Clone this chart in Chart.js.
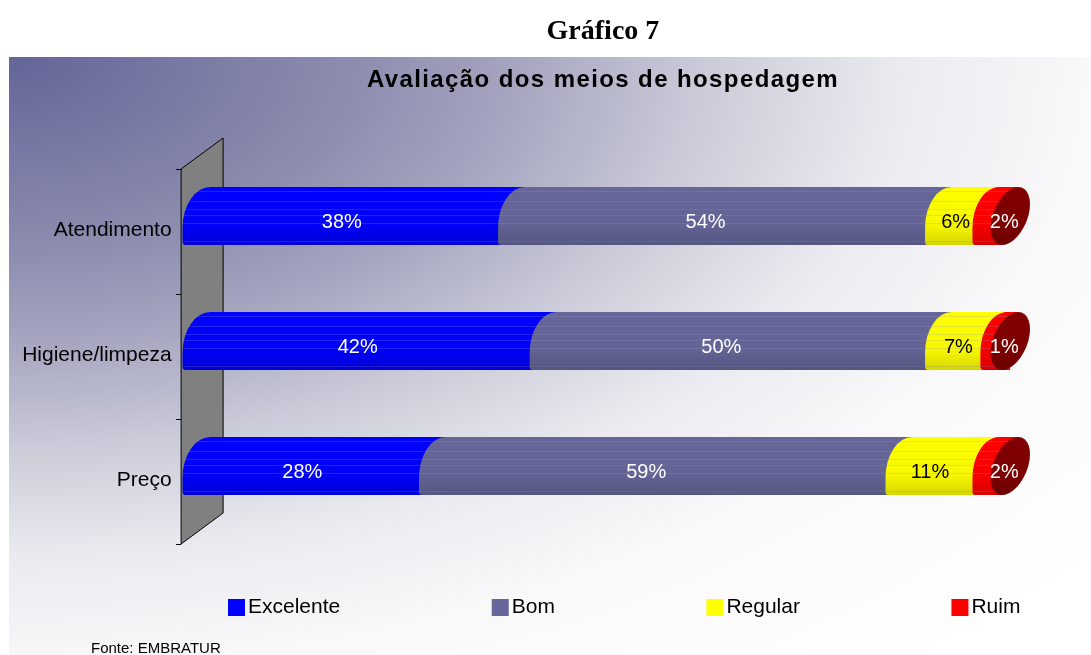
<!DOCTYPE html>
<html>
<head>
<meta charset="utf-8">
<script src="https://cdn.jsdelivr.net/npm/chart.js@4"></script>
<style>
html,body{margin:0;padding:0;background:#fff;overflow:hidden}
canvas{display:block}
</style>
</head>
<body>
<canvas id="c" width="1091" height="655"></canvas>
<script>
// ---- data ----
const pageTitle = 'Gráfico 7';
const chartTitle = 'Avaliação dos meios de hospedagem';
const sourceNote = 'Fonte: EMBRATUR';
const categories = ['Atendimento', 'Higiene/limpeza', 'Preço'];
const seriesNames = ['Excelente', 'Bom', 'Regular', 'Ruim'];
const excelente = [38, 42, 28];
const bom = [54, 50, 59];
const regular = [6, 7, 11];
const ruim = [2, 1, 2];
const seriesValues = [excelente, bom, regular, ruim];
const seriesColors = ['#0000ff', '#666699', '#ffff00', '#ff0000'];
const labelColors = ['#ffffff', '#ffffff', '#000000', '#ffffff'];
const capColor = '#800000';

const SANS = "'Liberation Sans', Arial, sans-serif";
const SERIF = "'Liberation Serif', 'Times New Roman', serif";

// ---- background (plot panel gradient) ----
const bgPlugin = {
  id: 'bg',
  beforeDraw(chart) {
    const ctx = chart.ctx;
    ctx.save();
    ctx.fillStyle = '#ffffff';
    ctx.fillRect(0, 0, chart.width, chart.height);
    ctx.translate(9, 57);
    ctx.scale(1.78, 1);
    const g = ctx.createRadialGradient(0, 0, 0, 0, 0, 800);
    g.addColorStop(0, 'rgb(100,101,152)');
    g.addColorStop(200 / 800, 'rgb(142,142,176)');
    g.addColorStop(293 / 800, 'rgb(168,168,194)');
    g.addColorStop(400 / 800, 'rgb(206,206,219)');
    g.addColorStop(500 / 800, 'rgb(234,234,240)');
    g.addColorStop(610 / 800, 'rgb(249,249,250)');
    g.addColorStop(1, 'rgb(255,255,255)');
    ctx.fillStyle = g;
    ctx.fillRect(0, 0, (chart.width - 9) / 1.78, chart.height - 57);
    ctx.restore();
  }
};

// ---- 3D wall behind the category axis ----
const wallPlugin = {
  id: 'wall',
  beforeDatasetsDraw(chart) {
    const ctx = chart.ctx;
    const {left, top, bottom} = chart.chartArea;
    const fx = left - 30.5, bx = left + 11.5, dy = 15.5;
    ctx.save();
    ctx.beginPath();
    ctx.moveTo(fx, top + dy);
    ctx.lineTo(bx, top - dy);
    ctx.lineTo(bx, bottom - dy);
    ctx.lineTo(fx, bottom + dy);
    ctx.closePath();
    ctx.fillStyle = '#808080';
    ctx.fill();
    ctx.strokeStyle = '#000';
    ctx.lineWidth = 1;
    ctx.stroke();
    const step = (bottom - top) / categories.length;
    ctx.beginPath();
    for (let i = 0; i <= categories.length; i++) {
      const y = Math.round(top + dy + i * step) + 0.5;
      ctx.moveTo(fx - 5, y);
      ctx.lineTo(fx, y);
    }
    ctx.stroke();
    ctx.restore();
  }
};

function bulgePath(ctx, xTop, xLeft, top, bottom) {
  const h = bottom - top, ry = 0.7 * h;
  ctx.beginPath();
  ctx.moveTo(xTop + 1, top);
  ctx.ellipse(xTop, top + ry, xTop - xLeft, ry, 0, -Math.PI / 2, -Math.PI, true);
  ctx.lineTo(xLeft, bottom - 3);
  ctx.quadraticCurveTo(xLeft, bottom, xLeft + 3, bottom);
}

// ---- cylinder look + value labels, from the bar elements' geometry ----
const cylPlugin = {
  id: 'cyl',
  afterDatasetsDraw(chart) {
    const ctx = chart.ctx;
    const metas = seriesNames.map((_, i) => chart.getDatasetMeta(i));
    const n = metas.length;
    categories.forEach((cat, j) => {
      const els = metas.map(m => m.data[j]);
      const y = els[0].y, h = els[0].height;
      const top = y - h / 2, bottom = y + h / 2;
      const b = [els[0].base, ...els.map(e => e.x)];
      const cx = b[n] + 8, sk = 8, rx = 18, ry = h / 2;
      ctx.save();
      // rounded start
      ctx.fillStyle = seriesColors[0];
      bulgePath(ctx, b[0] - 1, b[0] - 29, top, bottom);
      ctx.lineTo(b[0] + 2, bottom);
      ctx.lineTo(b[0] + 2, top);
      ctx.closePath();
      ctx.fill();
      // segment boundaries
      for (let k = 1; k < n; k++) {
        const x = b[k];
        const xr = Math.round(x + 14);
        ctx.fillStyle = seriesColors[k - 1];
        ctx.fillRect(Math.floor(x), top, xr - Math.floor(x), h);
        ctx.fillStyle = seriesColors[k];
        bulgePath(ctx, x + 13, x - 14, top, bottom);
        ctx.lineTo(xr + 2, bottom);
        ctx.lineTo(xr + 2, top);
        ctx.closePath();
        ctx.fill();
      }
      // last segment body up to the end cap
      const last = b[n - 1];
      ctx.fillStyle = seriesColors[n - 1];
      ctx.beginPath();
      ctx.moveTo(last + 10, top);
      ctx.lineTo(cx + sk, top);
      ctx.lineTo(cx - sk, bottom);
      ctx.lineTo(Math.min(last + 10, cx - sk), bottom);
      ctx.closePath();
      ctx.fill();

      const sil = () => {
        ctx.beginPath();
        ctx.moveTo(b[0] - 1, top);
        ctx.ellipse(b[0] - 1, top + 0.7 * h, 28, 0.7 * h, 0, -Math.PI / 2, -Math.PI, true);
        ctx.lineTo(b[0] - 29, bottom - 3);
        ctx.quadraticCurveTo(b[0] - 29, bottom, b[0] - 26, bottom);
        ctx.lineTo(cx - sk, bottom);
        ctx.save();
        ctx.transform(rx, 0, -sk, ry, cx, y);
        ctx.arc(0, 0, 1, Math.PI / 2, -Math.PI / 2, true);
        ctx.restore();
        ctx.closePath();
      };
      // fine horizontal streaks
      ctx.save();
      sil();
      ctx.clip();
      ctx.fillStyle = 'rgba(150,150,205,0.24)';
      [0.07, 0.24, 0.38, 0.48, 0.62, 0.93].forEach(f => {
        ctx.fillRect(b[0] - 30, Math.round(top + f * h), cx - b[0] + 60, 1);
      });
      ctx.restore();
      // end cap
      ctx.save();
      ctx.beginPath();
      ctx.transform(rx, 0, -sk, ry, cx, y);
      ctx.arc(0, 0, 1, 0, Math.PI * 2);
      ctx.restore();
      ctx.fillStyle = capColor;
      ctx.fill();
      // vertical shading
      ctx.save();
      sil();
      ctx.clip();
      const g = ctx.createLinearGradient(0, top, 0, bottom);
      g.addColorStop(0, 'rgba(0,0,0,0)');
      g.addColorStop(0.65, 'rgba(0,0,0,0.03)');
      g.addColorStop(1, 'rgba(0,0,0,0.16)');
      ctx.fillStyle = g;
      ctx.fillRect(b[0] - 30, top, cx - b[0] + 60, h);
      ctx.restore();
      // labels
      ctx.font = '20px ' + SANS;
      ctx.textAlign = 'center';
      ctx.textBaseline = 'middle';
      els.forEach((e, i) => {
        const w = e.x - e.base;
        const lx = (i === n - 1) ? b[n] + 2 : (e.x + e.base) / 2 - Math.min(20, 0.15 * w);
        ctx.fillStyle = labelColors[i];
        ctx.fillText(chart.data.datasets[i].data[j] + '%', lx, y + 6);
      });
      ctx.restore();
    });
  }
};

// ---- titles, legend, source ----
const textPlugin = {
  id: 'texts',
  afterDraw(chart) {
    const ctx = chart.ctx;
    const {left, right} = chart.chartArea;
    const mid = (left + right) / 2 - 4;
    ctx.save();
    ctx.fillStyle = '#000';
    ctx.textBaseline = 'alphabetic';
    ctx.textAlign = 'center';
    ctx.font = 'bold 28px ' + SERIF;
    ctx.fillText(pageTitle, mid, 39);
    ctx.font = 'bold 24px ' + SANS;
    ctx.letterSpacing = '1.4px';
    ctx.fillText(chartTitle, mid, 87);
    ctx.letterSpacing = '0px';
    // legend
    ctx.textAlign = 'left';
    ctx.font = '21px ' + SANS;
    let x = 228;
    chart.data.datasets.forEach(ds => {
      ctx.fillStyle = ds.backgroundColor;
      ctx.fillRect(x, 599, 17, 17);
      ctx.fillStyle = '#000';
      ctx.fillText(ds.label, x + 20, 613);
      x += 20 + ctx.measureText(ds.label).width + 151.5;
    });
    // source
    ctx.font = '15px ' + SANS;
    ctx.fillText(sourceNote, 91, 653);
    ctx.restore();
  }
};

const chart = new Chart(document.getElementById('c'), {
  type: 'bar',
  data: {
    labels: categories,
    datasets: seriesNames.map((name, i) => ({
      label: name,
      data: seriesValues[i],
      backgroundColor: seriesColors[i],
      borderWidth: 0,
      barPercentage: 0.464,
      categoryPercentage: 1
    }))
  },
  options: {
    indexAxis: 'y',
    responsive: false,
    animation: false,
    devicePixelRatio: 1,
    layout: {padding: {top: 153.5, bottom: 126.5, left: 0, right: 88.7}},
    scales: {
      x: {stacked: true, min: 0, max: 100, display: false},
      y: {
        stacked: true,
        grid: {display: false, drawTicks: false},
        border: {display: false},
        ticks: {color: '#000', font: {family: SANS, size: 21}, padding: 40, labelOffset: 14},
        afterFit(scale) { scale.width = 211.6; }
      }
    },
    plugins: {
      legend: {display: false},
      title: {display: false},
      tooltip: {enabled: false}
    }
  },
  plugins: [bgPlugin, wallPlugin, cylPlugin, textPlugin]
});
</script>
</body>
</html>
